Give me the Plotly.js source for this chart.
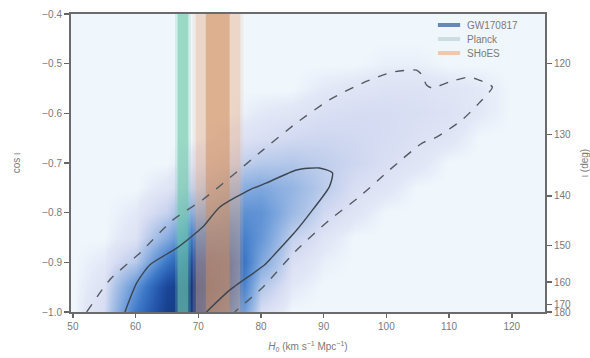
<!DOCTYPE html>
<html><head><meta charset="utf-8">
<script src="https://cdn.plot.ly/plotly-3.0.1.min.js"></script>
<style>html,body{margin:0;padding:0;background:#fff}#chart{width:590px;height:358px}</style>
</head><body><div id="chart"></div>
<script>
// ---- data ----
const gridH0 = [50,55,60,65,70,75,80,85,90,95,100,105,110,115,120,125];
const gridCos = [-1.0,-0.95,-0.9,-0.85,-0.8,-0.75,-0.7,-0.65,-0.6,-0.55,-0.5,-0.45,-0.4];
const density = [
 [0,0.06,0.50,0.85,0.90,0.55,0.05,0,0,0,0,0,0,0,0,0],
 [0,0.04,0.38,0.80,0.95,0.70,0.14,0.02,0,0,0,0,0,0,0,0],
 [0,0.02,0.13,0.52,0.82,0.72,0.28,0.05,0.01,0,0,0,0,0,0,0],
 [0,0,0.04,0.26,0.56,0.56,0.36,0.10,0.03,0,0,0,0,0,0,0],
 [0,0,0.02,0.10,0.30,0.40,0.38,0.20,0.07,0.03,0,0,0,0,0,0],
 [0,0,0,0.03,0.12,0.24,0.28,0.22,0.12,0.05,0.03,0,0,0,0,0],
 [0,0,0,0,0.04,0.09,0.13,0.14,0.11,0.08,0.05,0.03,0,0,0,0],
 [0,0,0,0,0,0.03,0.05,0.07,0.08,0.07,0.06,0.04,0.03,0,0,0],
 [0,0,0,0,0,0,0.02,0.03,0.05,0.06,0.06,0.05,0.04,0.02,0,0],
 [0,0,0,0,0,0,0,0,0.02,0.03,0.04,0.04,0.03,0.02,0,0],
 [0,0,0,0,0,0,0,0,0,0,0.01,0.01,0,0,0,0],
 [0,0,0,0,0,0,0,0,0,0,0,0,0,0,0,0],
 [0,0,0,0,0,0,0,0,0,0,0,0,0,0,0,0]
];
// 95% (dashed) contour
const c95H0 = [52.2,55.9,60.7,65.9,70.7,75.0,80.3,85.7,90.9,96.2,101.0,104.8,105.7,106.4,107.3,110.0,113.2,114.8,116.9,114.8,112.1,108.0,105.7,100.5,95.7,90.9,85.7,80.3,75.8];
const c95Cos = [-1.0,-0.935,-0.881,-0.815,-0.774,-0.730,-0.674,-0.619,-0.573,-0.539,-0.517,-0.513,-0.523,-0.543,-0.549,-0.537,-0.527,-0.533,-0.547,-0.579,-0.613,-0.648,-0.660,-0.714,-0.768,-0.815,-0.875,-0.950,-1.0];
// 68% (solid) contour
const c68H0 = [58.3,60.2,62.3,66.6,70.7,73.4,78.2,80.9,85.7,89.3,91.4,90.9,88.2,85.7,81.8,80.6,75.0,71.3];
const c68Cos = [-1.0,-0.941,-0.905,-0.871,-0.829,-0.789,-0.754,-0.740,-0.714,-0.710,-0.720,-0.748,-0.795,-0.835,-0.889,-0.905,-0.956,-1.0];
// H0 bands
const planckBand = [66.7, 68.4];
const shoesBand1 = [71.2, 75.0];
const shoesBand2 = [69.6, 76.7];
// axis ticks
const xTicks = [50,60,70,80,90,100,110,120];
const yTicks = [-1.0,-0.9,-0.8,-0.7,-0.6,-0.5,-0.4];
const incTicks = [120,130,140,150,160,170,180];
const seriesNames = ['GW170817','Planck','SHoES'];
const seriesColors = ['#6489b4','#c9dde2','#f0c8ad'];

const grey = '#7a7a7a';
function band(r, color, op){
  return {type:'scatter', x:[r[0],r[0],r[1],r[1],r[0]], y:[-1,-0.4,-0.4,-1,-1],
    fill:'toself', fillcolor:color, line:{width:0}, mode:'lines', opacity:op,
    hoverinfo:'skip', showlegend:false};
}
function widen(r, d){ return [r[0]-d, r[1]+d]; }

const traces = [
  {type:'heatmap', x:gridH0, y:gridCos, z:density, zsmooth:'best', showscale:false, zmin:0, zmax:1,
   colorscale:[[0,'#f0f7fc'],[0.02,'#e3e8f7'],[0.06,'#d6dcf2'],[0.15,'#aec4e8'],[0.3,'#78a3dc'],[0.5,'#3d79c8'],[0.7,'#2355aa'],[0.85,'#173f8c'],[1,'#102a6c']],
   hoverinfo:'skip'},
  band(widen(planckBand,0.4), '#7ccfb2', 0.25),
  band(planckBand, '#6cc9a8', 0.55),
  band(widen(shoesBand2,0.5), '#ecbea0', 0.2),
  band(shoesBand2, '#e6b08a', 0.35),
  band(shoesBand1, '#d08c5a', 0.5),
  {type:'scatter', x:c95H0, y:c95Cos, mode:'lines', line:{color:'#555a60', width:1.4, dash:'dash', shape:'spline', smoothing:0.6}, showlegend:false, hoverinfo:'skip'},
  {type:'scatter', x:c68H0, y:c68Cos, mode:'lines', line:{color:'#3d4650', width:1.4, shape:'spline', smoothing:0.6}, showlegend:false, hoverinfo:'skip'},
  {type:'scatter', x:[null], y:[null], yaxis:'y2', showlegend:false, hoverinfo:'skip'}
];

// legend drawn as swatches + labels (compact rows like the reference)
const legRowsY = [0.963, 0.916, 0.869];
const shapes = [], annotations = [];
seriesNames.forEach((n,i)=>{
  shapes.push({type:'line', xref:'paper', yref:'paper', x0:0.774, x1:0.821, y0:legRowsY[i], y1:legRowsY[i],
    line:{color:seriesColors[i], width:4}});
  annotations.push({xref:'paper', yref:'paper', x:0.831, y:legRowsY[i], xanchor:'left', yanchor:'middle',
    text:n, showarrow:false, font:{size:10, color:grey}});
});

const layout = {
  width:590, height:358,
  margin:{l:71, r:45, t:14, b:46},
  paper_bgcolor:'#ffffff', plot_bgcolor:'#f0f7fc',
  font:{family:'Liberation Sans, Arial, sans-serif', size:10, color:grey},
  showlegend:false,
  shapes:shapes, annotations:annotations,
  xaxis:{range:[49.7,125.3], tickvals:xTicks, ticks:'outside', ticklen:4, tickwidth:1.5, tickcolor:'#666',
    showline:true, linecolor:'#6b6b6b', linewidth:2, mirror:true, showgrid:false, zeroline:false,
    tickfont:{size:10, color:grey},
    title:{text:'<i>H</i><sub>0</sub> (km s<sup>−1</sup> Mpc<sup>−1</sup>)', font:{size:10, color:grey}, standoff:12}},
  yaxis:{range:[-1.0,-0.4], tickvals:yTicks, tickformat:'.1f', ticks:'outside', ticklen:5, tickwidth:1.5, tickcolor:'#666',
    showline:true, linecolor:'#6b6b6b', linewidth:2, mirror:true, showgrid:false, zeroline:false,
    tickfont:{size:10, color:grey},
    title:{text:'cos ι', font:{size:10, color:grey}, standoff:20}},
  yaxis2:{overlaying:'y', side:'right', range:[-1.0,-0.4],
    tickvals:incTicks.map(d=>Math.cos(d*Math.PI/180)), ticktext:incTicks.map(String),
    ticks:'outside', ticklen:5, tickwidth:1.5, tickcolor:'#666', showline:true, linecolor:'#6b6b6b', linewidth:2,
    showgrid:false, zeroline:false, tickfont:{size:10, color:grey},
    title:{text:'ι (deg)', font:{size:10, color:grey}, standoff:21}}
};
Plotly.newPlot('chart', traces, layout, {displayModeBar:false, staticPlot:true});
</script></body></html>
